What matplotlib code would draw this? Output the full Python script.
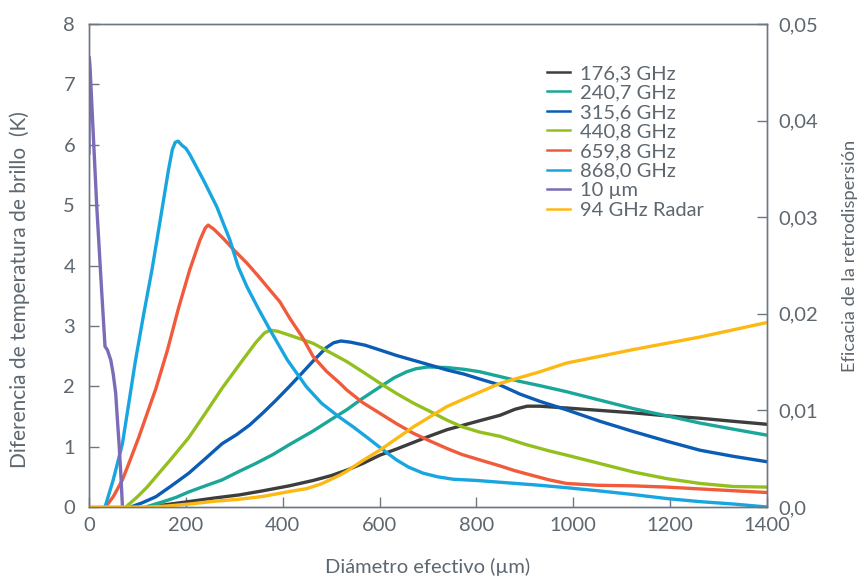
import matplotlib
matplotlib.use("Agg")
import matplotlib.pyplot as plt
from matplotlib.lines import Line2D

plt.rcParams['font.family'] = ['Lato', 'DejaVu Sans']

# 176,3 GHz
x_176 = [124, 160, 206, 260, 310, 360, 413, 463, 500, 532, 565, 601, 635, 670, 705, 739, 775, 807, 849, 880, 905, 931, 986, 1055, 1124, 1193, 1262, 1330, 1400]
y_176 = [0, 0.04, 0.09, 0.15, 0.20, 0.27, 0.35, 0.44, 0.52, 0.61, 0.72, 0.86, 0.96, 1.07, 1.18, 1.28, 1.36, 1.43, 1.52, 1.62, 1.67, 1.67, 1.64, 1.60, 1.56, 1.51, 1.47, 1.42, 1.37]
# 240,7 GHz
x_240 = [117, 150, 180, 206, 240, 275, 310, 344, 380, 413, 463, 500, 532, 565, 601, 630, 656, 675, 700, 739, 775, 807, 849, 890, 931, 986, 1055, 1124, 1193, 1262, 1330, 1400]
y_240 = [0, 0.08, 0.16, 0.25, 0.35, 0.45, 0.59, 0.72, 0.87, 1.03, 1.26, 1.45, 1.61, 1.80, 1.99, 2.14, 2.24, 2.29, 2.32, 2.31, 2.28, 2.24, 2.16, 2.08, 2.01, 1.91, 1.77, 1.63, 1.51, 1.39, 1.29, 1.19]
# 315,6 GHz
x_315 = [86, 110, 138, 170, 206, 240, 275, 305, 332, 358, 385, 413, 440, 463, 490, 505, 520, 540, 570, 601, 635, 670, 705, 739, 775, 807, 849, 890, 931, 986, 1055, 1124, 1193, 1262, 1330, 1400]
y_315 = [0, 0.07, 0.17, 0.35, 0.56, 0.80, 1.05, 1.20, 1.36, 1.55, 1.76, 1.99, 2.22, 2.42, 2.64, 2.72, 2.75, 2.73, 2.68, 2.60, 2.51, 2.43, 2.35, 2.27, 2.20, 2.12, 2.02, 1.87, 1.75, 1.61, 1.42, 1.25, 1.09, 0.94, 0.84, 0.75]
# 440,8 GHz
x_440 = [76, 100, 120, 138, 170, 206, 240, 275, 317, 345, 362, 374, 390, 420, 463, 500, 532, 565, 601, 635, 670, 705, 739, 770, 807, 849, 900, 950, 986, 1055, 1124, 1193, 1262, 1330, 1400]
y_440 = [0, 0.17, 0.33, 0.50, 0.80, 1.15, 1.55, 1.97, 2.43, 2.73, 2.88, 2.93, 2.91, 2.83, 2.71, 2.55, 2.41, 2.24, 2.05, 1.88, 1.72, 1.58, 1.44, 1.33, 1.24, 1.17, 1.04, 0.93, 0.86, 0.72, 0.58, 0.47, 0.39, 0.34, 0.33]
# 659,8 GHz
x_659 = [34, 50, 69, 86, 103, 120, 138, 162, 185, 208, 229, 240, 246, 258, 277, 300, 326, 350, 374, 394, 415, 440, 463, 490, 518, 532, 565, 601, 635, 670, 705, 739, 770, 807, 849, 880, 917, 950, 986, 1050, 1124, 1193, 1260, 1330, 1400]
y_659 = [0, 0.17, 0.45, 0.80, 1.16, 1.55, 1.96, 2.60, 3.30, 3.93, 4.42, 4.62, 4.67, 4.60, 4.45, 4.25, 4.04, 3.82, 3.59, 3.40, 3.12, 2.82, 2.49, 2.25, 2.05, 1.94, 1.73, 1.55, 1.38, 1.22, 1.09, 0.97, 0.87, 0.78, 0.68, 0.60, 0.52, 0.45, 0.39, 0.36, 0.35, 0.33, 0.30, 0.27, 0.24]
# 868,0 GHz
x_868 = [33, 50, 69, 96, 113, 130, 147, 164, 172, 178, 184, 192, 200, 208, 220, 236, 264, 291, 308, 326, 350, 374, 410, 449, 480, 515, 545, 573, 605, 635, 660, 690, 720, 752, 800, 849, 931, 986, 1050, 1120, 1193, 1260, 1330, 1400]
y_868 = [0, 0.45, 1.05, 2.43, 3.20, 3.93, 4.75, 5.58, 5.92, 6.04, 6.06, 5.99, 5.94, 5.84, 5.66, 5.42, 4.97, 4.42, 3.98, 3.65, 3.28, 2.93, 2.43, 1.99, 1.72, 1.50, 1.33, 1.16, 0.96, 0.78, 0.66, 0.56, 0.50, 0.46, 0.44, 0.41, 0.36, 0.32, 0.27, 0.21, 0.14, 0.09, 0.05, 0.0]
# 10 um
x_10um = [0, 0.5, 2, 8, 16, 26, 33, 38, 45, 50, 55, 59, 62, 66, 69]
y_10um = [5.85, 7.45, 7.3, 6.3, 4.97, 3.59, 2.66, 2.6, 2.43, 2.2, 1.89, 1.4, 1.05, 0.5, 0]
# 94 GHz Radar (eje derecho)
x_radar = [0, 125, 160, 206, 260, 310, 360, 413, 449, 480, 518, 532, 565, 601, 670, 739, 807, 849, 931, 986, 1124, 1262, 1400]
y_radar = [0, 0, 0.0001, 0.0003, 0.0006, 0.0008, 0.0011, 0.0016, 0.0019, 0.0024, 0.0033, 0.0037, 0.0048, 0.0059, 0.0083, 0.0104, 0.0119, 0.0128, 0.0140, 0.0149, 0.0163, 0.0176, 0.0191]

labels = ['176,3 GHz', '240,7 GHz', '315,6 GHz', '440,8 GHz', '659,8 GHz', '868,0 GHz', '10 µm', '94 GHz Radar']
colors = ['#3d3d3d', '#1aa698', '#0a5cb4', '#93c01f', '#f15a3a', '#18a6e0', '#7b6bb8', '#fdb913']

text_c = '#5d6770'
spine_c = '#6e7780'
lw = 2.4

fig = plt.figure(figsize=(8.61, 5.77), dpi=100)
ax = fig.add_axes([0.1034, 0.1213, 0.7874, 0.8371])
ax2 = ax.twinx()

series = [(x_176, y_176), (x_240, y_240), (x_315, y_315), (x_440, y_440),
          (x_659, y_659), (x_868, y_868), (x_10um, y_10um)]
for (xs, ys), c in zip(series, colors[:7]):
    ax.plot(xs, ys, color=c, lw=lw, solid_capstyle='round', solid_joinstyle='round')
ax2.plot(x_radar, y_radar, color=colors[7], lw=lw, solid_capstyle='round')

ax.set_xlim(0, 1400)
ax.set_ylim(0, 8)
ax2.set_ylim(0, 0.05)
ax.set_xticks(range(0, 1401, 200))
ax.set_yticks(range(0, 9))
ax2.set_yticks([0, 0.01, 0.02, 0.03, 0.04, 0.05])
ax2.set_yticklabels(['0,0', '0,01', '0,02', '0,03', '0,04', '0,05'])

for a in (ax, ax2):
    for s in a.spines.values():
        s.set_color(spine_c)
        s.set_linewidth(1.0)
ax.tick_params(axis='both', direction='in', length=7, width=1, color=spine_c,
               labelcolor=text_c, labelsize=14.5)
ax.tick_params(axis='y', pad=10)
ax.tick_params(axis='x', pad=7)
ax2.tick_params(axis='y', direction='in', length=7, width=1, color=spine_c,
                labelcolor=text_c, labelsize=14.5, pad=8)

ax.set_xlabel('Diámetro efectivo (µm)', color=text_c, fontsize=14.5)
ax.xaxis.set_label_coords(0.5, -0.105)
ax.set_ylabel('Diferencia de temperatura de brillo  (K)', color=text_c, fontsize=15)
ax.yaxis.set_label_coords(-0.087, 0.45)
ax2.set_ylabel('Eficacia de la retrodispersión', color=text_c, fontsize=13.2)
ax2.yaxis.set_label_coords(1.111, 0.52)

handles = [Line2D([], [], color=c, lw=1.8) for c in colors]
leg = ax2.legend(handles, labels, loc='upper left', bbox_to_anchor=(0.6235, 0.905),
                 bbox_transform=fig.transFigure, frameon=False, fontsize=14.5,
                 handlelength=1.15, handletextpad=0.5, labelspacing=0.12, borderpad=0)
for t in leg.get_texts():
    t.set_color(text_c)

fig.savefig('out.png', dpi=100)
